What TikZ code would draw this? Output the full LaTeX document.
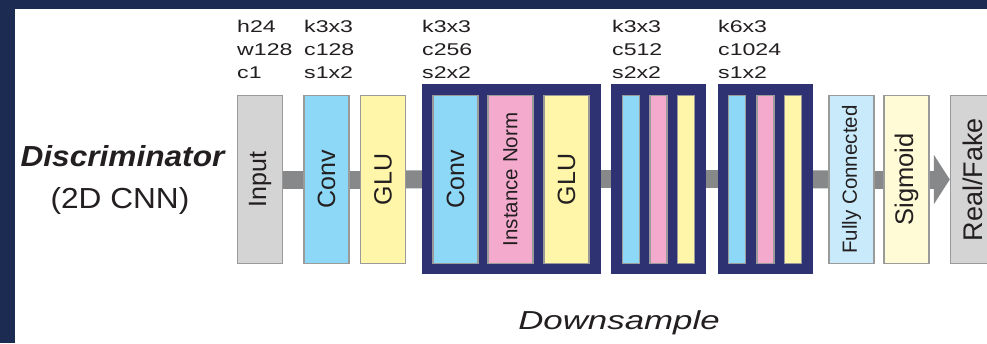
\documentclass[tikz,border=0pt]{standalone}
\usepackage{fontspec}
\setmainfont{Liberation Sans}
\newfontfamily\lblfont[FakeStretch=1.36]{Liberation Sans}
\newfontfamily\dsfont[FakeStretch=1.34]{Liberation Sans}
\newfontfamily\discfont[FakeStretch=1.09]{Liberation Sans}
\usetikzlibrary{arrows.meta,backgrounds}
\definecolor{framec}{HTML}{1B2B52}
\definecolor{navy}{HTML}{2F3272}
\definecolor{convc}{HTML}{8DD8F7}
\definecolor{gluc}{HTML}{FFF6AA}
\definecolor{normc}{HTML}{F4AACD}
\definecolor{inc}{HTML}{D4D4D4}
\definecolor{fcc}{HTML}{C8EAFA}
\definecolor{sigc}{HTML}{FFFBD6}
\definecolor{barc}{HTML}{87888A}
\definecolor{edgec}{HTML}{9A9A9A}
\definecolor{txt}{HTML}{231F20}
\begin{document}
\begin{tikzpicture}[x=1pt,y=-1pt,
  blk/.style={draw=edgec, line width=1.5pt, minimum width=#1, minimum height=168pt,
    inner sep=0pt, text=txt, font=\fontsize{25}{30}\selectfont},
  blk/.default=45pt,
  dsbox/.style={fill=navy, draw=none, minimum height=190pt, minimum width=#1, inner sep=0pt},
  bar/.style={draw=barc, line width=18pt},
  lbl/.style={anchor=base west, inner sep=0pt, text=txt, font=\lblfont\fontsize{17}{23}\selectfont}]
\useasboundingbox (0,0) rectangle (987,343);
\clip (0,0) rectangle (987,343);
\begin{pgfonlayer}{background}
\fill[framec] (0,0) rectangle (987,343);
\fill[white] (15,9) rectangle (1000,350);
\end{pgfonlayer}

% downsample frames
\node[dsbox=179pt] (ds1) at (511.5,179) {};
\node[dsbox=95pt] (ds2) at (658.5,179) {};
\node[dsbox=95pt] (ds3) at (765.5,179) {};

% blocks
\node[blk, fill=inc] (inp) at (260,179.5) {\rotatebox{90}{Input}};
\node[blk, fill=convc] (conv1) at (326.5,179.5) {\rotatebox{90}{Conv}};
\node[blk, fill=gluc] (glu1) at (383,179.5) {\rotatebox{90}{GLU}};
\node[blk, fill=convc] (conv2) at (455.5,179.5) {\rotatebox{90}{Conv}};
\node[blk, fill=normc, font=\fontsize{20.5}{24}\selectfont] (norm2) at (510.5,179.5) {\rotatebox{90}{Instance Norm}};
\node[blk, fill=gluc] (glu2) at (566.5,179.5) {\rotatebox{90}{GLU}};
\node[blk=17pt, fill=convc] (conv3) at (631,179.5) {};
\node[blk=17pt, fill=normc] (norm3) at (658.5,179.5) {};
\node[blk=17pt, fill=gluc] (glu3) at (686,179.5) {};
\node[blk=17pt, fill=convc] (conv4) at (737,179.5) {};
\node[blk=17pt, fill=normc] (norm4) at (765.5,179.5) {};
\node[blk=17pt, fill=gluc] (glu4) at (793,179.5) {};
\node[blk, fill=fcc, font=\fontsize{20.5}{24}\selectfont] (fc) at (851.5,179.5) {\rotatebox{90}{Fully Connected}};
\node[blk, fill=sigc, font=\fontsize{25.5}{30}\selectfont] (sig) at (906.5,179.5) {\rotatebox{90}{Sigmoid}};
\node[blk, fill=inc, font=\fontsize{27}{30}\selectfont] (rf) at (973,179.5) {\rotatebox{90}{Real/Fake}};

% connectors (behind the blocks)
\begin{pgfonlayer}{background}
\draw[bar] (inp.center) -- (conv1.center);
\draw[bar] (conv1.center) -- (glu1.center);
\draw[bar] (glu1.center) -- (ds1.center);
\draw[bar] (ds1.center) -- (ds2.center);
\draw[bar] (ds2.center) -- (ds3.center);
\draw[bar] (ds3.center) -- (fc.center);
\draw[bar] (fc.center) -- (sig.center);
\end{pgfonlayer}
\draw[bar, -{Triangle[length=16pt,width=49pt]}] (sig.east) -- (rf.west);

% labels
\node[lbl] (l1) at (237,32) {\begin{tabular}[t]{@{}l@{}}h24\\w128\\c1\end{tabular}};
\node[lbl] (l2) at (304,32) {\begin{tabular}[t]{@{}l@{}}k3x3\\c128\\s1x2\end{tabular}};
\node[lbl] (l3) at (422,32) {\begin{tabular}[t]{@{}l@{}}k3x3\\c256\\s2x2\end{tabular}};
\node[lbl] (l4) at (612,32) {\begin{tabular}[t]{@{}l@{}}k3x3\\c512\\s2x2\end{tabular}};
\node[lbl] (l5) at (718,32) {\begin{tabular}[t]{@{}l@{}}k6x3\\c1024\\s1x2\end{tabular}};

\node[anchor=base, inner sep=0pt, text=txt, font=\discfont\bfseries\itshape\fontsize{29}{34}\selectfont] (disc) at (122.5,166) {Discriminator};
\node[anchor=base, inner sep=0pt, text=txt, font=\discfont\fontsize{29}{34}\selectfont] (cnn) at (120,208) {(2D CNN)};
\node[anchor=base, inner sep=0pt, text=txt, font=\dsfont\itshape\fontsize{26}{30}\selectfont] (dslbl) at (619,329) {Downsample};
\end{tikzpicture}
\end{document}
